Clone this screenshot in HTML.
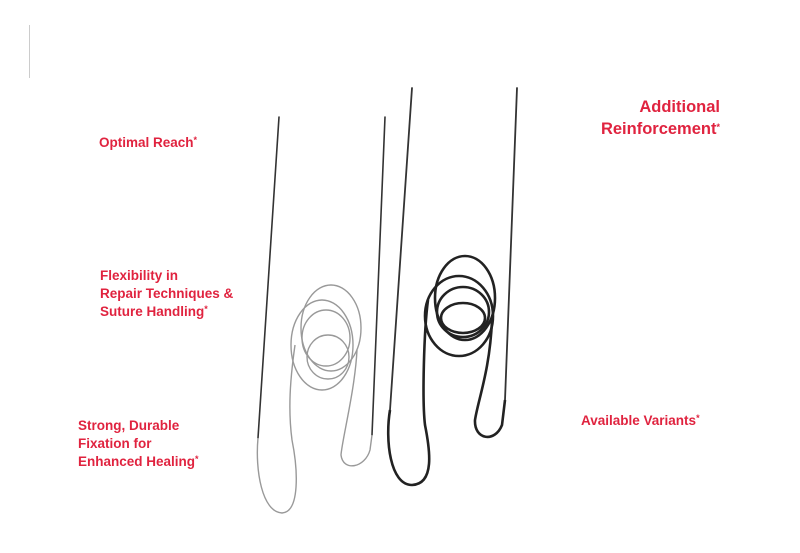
<!DOCTYPE html>
<html><head><style>
body{margin:0;width:800px;height:553px;background:#fff;position:relative;overflow:hidden;font-family:"Liberation Sans",sans-serif}
.t{position:absolute;color:#e0233f;font-weight:bold;font-size:13.5px;line-height:18px;white-space:nowrap}
.t sup{font-size:9px;vertical-align:4px;line-height:0}
.big{font-size:16.5px;line-height:22px;text-align:right}
svg{position:absolute;left:0;top:0}
</style></head><body>
<svg width="800" height="553" viewBox="0 0 800 553" fill="none">
<line x1="29.5" y1="25" x2="29.5" y2="78" stroke="#ccc" stroke-width="1"/>
<g stroke-linecap="round">
<line x1="279" y1="117" x2="258" y2="438" stroke="#333" stroke-width="1.6"/>
<line x1="385" y1="117" x2="372" y2="435" stroke="#333" stroke-width="1.6"/>
<line x1="412" y1="88" x2="390" y2="410" stroke="#333" stroke-width="1.8"/>
<line x1="517" y1="88" x2="505" y2="400" stroke="#333" stroke-width="1.8"/>
</g>
<g stroke="#999" stroke-width="1.4">
<path d="M258 438 C255 470 262 512 282 513 C300 512 298 470 292 440 C288 410 290 380 295 345"/>
<ellipse cx="331" cy="328" rx="30" ry="43"/>
<ellipse cx="322" cy="345" rx="31" ry="45"/>
<ellipse cx="326" cy="338" rx="24" ry="28"/>
<ellipse cx="328" cy="357" rx="21" ry="22"/>
<path d="M357 350 C355 390 342 440 341 455 C343 472 365 468 370 450 L372 435"/>
</g>
<g stroke="#222" stroke-width="2.6">
<path d="M390 410 C385 440 390 485 412 485 C435 484 430 450 425 425 C422 400 424 330 428 300"/>
<ellipse cx="465" cy="298" rx="30" ry="42"/>
<ellipse cx="459" cy="316" rx="34" ry="40"/>
<ellipse cx="463" cy="312" rx="26" ry="25"/>
<ellipse cx="463" cy="318" rx="22" ry="15"/>
<path d="M492 320 C490 370 478 400 475 420 C474 440 495 443 502 425 L505 400"/>
</g>
</svg>
<div class="t" style="left:99px;top:134px">Optimal Reach<sup>*</sup></div>
<div class="t" style="left:100px;top:267px">Flexibility in<br>Repair Techniques &amp;<br>Suture Handling<sup>*</sup></div>
<div class="t" style="left:78px;top:417px">Strong, Durable<br>Fixation for<br>Enhanced Healing<sup>*</sup></div>
<div class="t big" style="right:80px;top:96px">Additional<br>Reinforcement<sup>*</sup></div>
<div class="t" style="left:581px;top:412px">Available Variants<sup>*</sup></div>
</body></html>
